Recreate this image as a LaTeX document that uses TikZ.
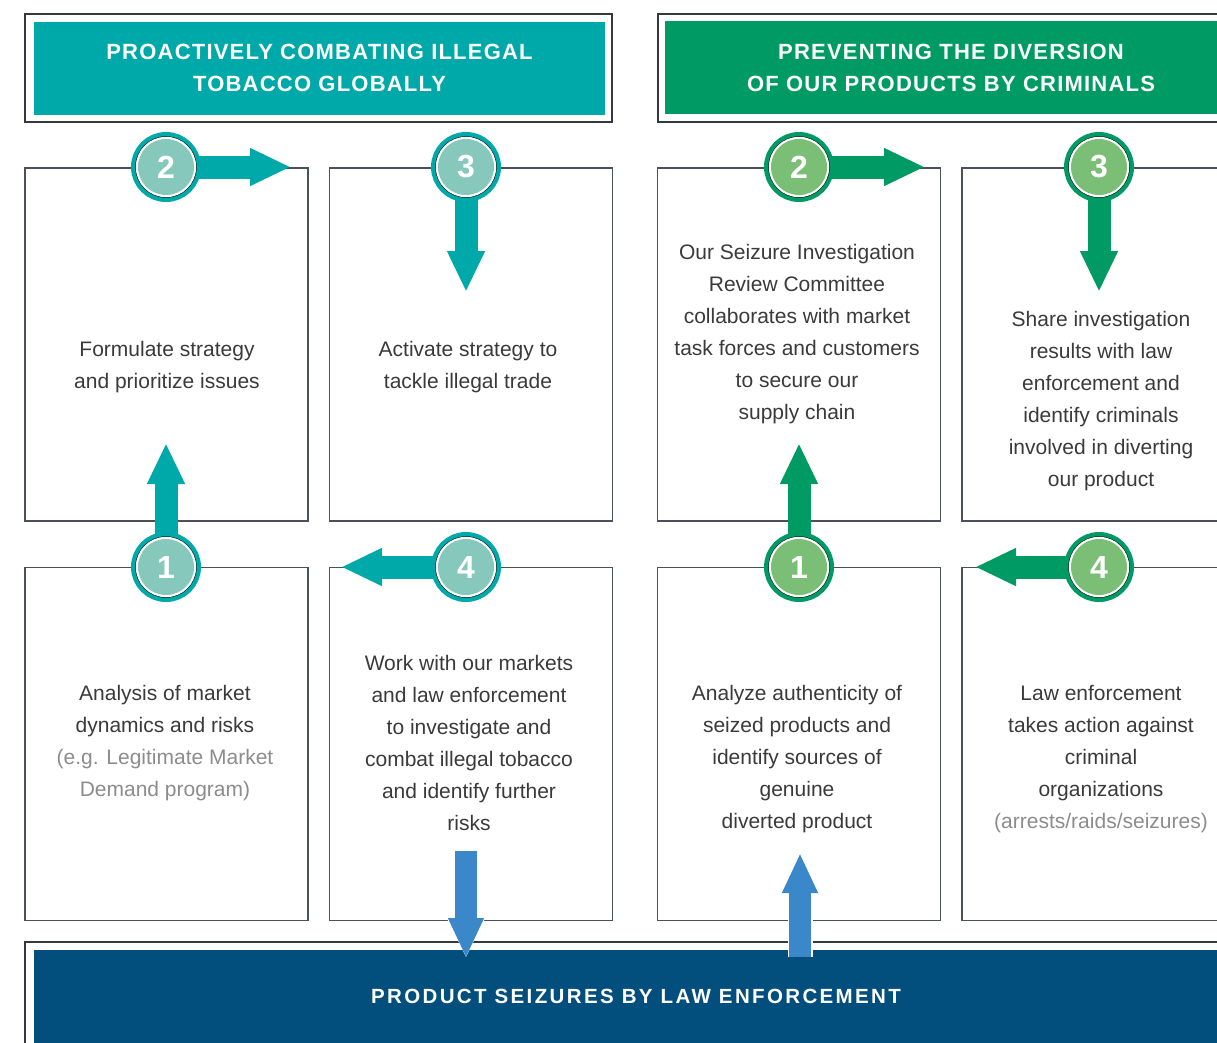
\documentclass[tikz,border=0pt]{standalone}
\usepackage{fontspec}
\setmainfont{Liberation Sans}
\newfontfamily\hdfont[LetterSpace=5.5]{Liberation Sans}
\newfontfamily\btfont[LetterSpace=11.5]{Liberation Sans}
\usetikzlibrary{arrows.meta}
\definecolor{tealA}{HTML}{00A9A9}
\definecolor{tealL}{HTML}{86C8BC}
\definecolor{greenA}{HTML}{009B65}
\definecolor{greenL}{HTML}{7BBE76}
\definecolor{navy}{HTML}{024E7C}
\definecolor{blueA}{HTML}{3A88C9}
\definecolor{framec}{HTML}{4B5059}
\definecolor{txt}{HTML}{3A3A3A}
\definecolor{txtgray}{HTML}{8C8C8C}
\pgfdeclarelayer{bg}
\pgfdeclarelayer{mid}
\pgfsetlayers{bg,mid,main}
\tikzset{
  cbox/.style={draw=framec, line width=1.4pt, minimum width=283pt, minimum height=353pt, inner sep=0pt},
  hframe/.style={draw=framec!70!black, line width=1.4pt, inner sep=0pt},
  hfill/.style={fill=#1, inner sep=0pt, text=white, align=center,
     font=\hdfont\bfseries\fontsize{22}{32}\selectfont},
  body/.style={align=center, text=txt, inner sep=0pt, font=\fontsize{21}{32}\selectfont},
  numc/.style n args={2}{circle, inner sep=0pt, minimum size=56pt, fill=#2, text=white,
     font=\bfseries\fontsize{32}{32}\selectfont,
     preaction={draw=#1, fill=#1, line width=14pt},
     preaction={draw=black, line width=5.4pt},
     preaction={draw=white, line width=4.4pt}},
  thick arrow/.style={draw=#1, line width=23pt, -{Triangle[length=41pt,width=35pt]}},
  blue arrow/.style={draw=blueA, line width=22pt, -{Triangle[length=40pt,width=33pt]},
     preaction={draw=white, line width=25pt, -{Triangle[length=43pt,width=38pt]}}}
}
\newcommand{\gr}[1]{{\color{txtgray}#1}}
\begin{document}
\begin{tikzpicture}[x=1pt,y=-1pt]
\useasboundingbox (0,0) rectangle (1217,1042);
\clip (0,0) rectangle (1217,1042);

% ---------- boxes (background) ----------
\begin{pgfonlayer}{bg}
\node[hframe, minimum width=587pt, minimum height=108pt] (hfL) at (318.5,68) {};
\node[hframe, minimum width=600pt, minimum height=108pt] (hfR) at (958,68) {};
\node[cbox] (bA) at (166.5,344.5) {};
\node[cbox] (bB) at (471,344.5) {};
\node[cbox] (bC) at (166.5,744) {};
\node[cbox] (bD) at (471,744) {};
\node[cbox] (bE) at (799,344.5) {};
\node[cbox] (bF) at (1103.5,344.5) {};
\node[cbox] (bG) at (799,744) {};
\node[cbox] (bH) at (1103.5,744) {};
\node[hframe, minimum width=1240pt, minimum height=140pt] (bfr) at (645,1012) {};
\end{pgfonlayer}

% ---------- header fills ----------
\node[hfill=tealA, minimum width=571pt, minimum height=93pt] (hL) at (319.5,68)
  {PROACTIVELY COMBATING ILLEGAL\\TOBACCO GLOBALLY};
\node[hfill=greenA, minimum width=600pt, minimum height=93pt] (hRbg) at (965,67.5) {};
\node[text=white, align=center, inner sep=0pt, font=\hdfont\bfseries\fontsize{22}{32}\selectfont]
  (hR) at (951,68) {PREVENTING THE DIVERSION\\OF OUR PRODUCTS BY CRIMINALS};
\node[fill=navy, minimum width=1230pt, minimum height=120pt, inner sep=0pt] (bot) at (649,1010) {};
\node[text=white, inner sep=0pt, font=\btfont\bfseries\fontsize{20.5}{24}\selectfont]
  (botT) at (636,996) {PRODUCT SEIZURES BY LAW ENFORCEMENT};

% ---------- body texts ----------
\node[body] (tA) at (167,367) {Formulate strategy\\and prioritize issues};
\node[body] (tB) at (468,367) {Activate strategy to\\tackle illegal trade};
\node[body] (tE) at (797,334) {Our Seizure Investigation\\Review Committee\\collaborates with market\\task forces and customers\\to secure our\\supply chain};
\node[body] (tF) at (1101,401) {Share investigation\\results with law\\enforcement and\\identify criminals\\involved in diverting\\our product};
\node[body] (tC) at (165,743) {Analysis of market\\dynamics and risks\\\gr{(e.g. Legitimate Market}\\\gr{Demand program)}};
\node[body] (tD) at (469,743) {Work with our markets\\and law enforcement\\to investigate and\\combat illegal tobacco\\and identify further\\risks};
\node[body] (tG) at (797,759) {Analyze authenticity of\\seized products and\\identify sources of\\genuine\\diverted product};
\node[body] (tH) at (1101,759) {Law enforcement\\takes action against\\criminal\\organizations\\\gr{(arrests/raids/seizures)}};

% ---------- numbered circles ----------
\node[numc={tealA}{tealL}] (c2L) at (166,167) {2};
\node[numc={tealA}{tealL}] (c3L) at (466,167) {3};
\node[numc={tealA}{tealL}] (c1L) at (166,567) {1};
\node[numc={tealA}{tealL}] (c4L) at (466,567) {4};
\node[numc={greenA}{greenL}] (c2R) at (799,167) {2};
\node[numc={greenA}{greenL}] (c3R) at (1099,167) {3};
\node[numc={greenA}{greenL}] (c1R) at (799,567) {1};
\node[numc={greenA}{greenL}] (c4R) at (1099,567) {4};

% ---------- arrow end points ----------
\coordinate (t2L) at (291,167);
\coordinate (t3L) at (466,292);
\coordinate (t1L) at (166,443);
\coordinate (t4L) at (341,567);
\coordinate (t2R) at (925,167);
\coordinate (t3R) at (1099,292);
\coordinate (t1R) at (799,443);
\coordinate (t4R) at (975,567);
\coordinate (bdS) at (466,851);
\coordinate (bdE) at (466,958);
\coordinate (buS) at (800,957);
\coordinate (buE) at (800,853);

\begin{pgfonlayer}{mid}
\draw[thick arrow=tealA] (c2L.center) -- (t2L);
\draw[thick arrow=tealA] (c3L.center) -- (t3L);
\draw[thick arrow=tealA] (c1L.center) -- (t1L);
\draw[thick arrow=tealA] (c4L.center) -- (t4L);
\draw[thick arrow=greenA] (c2R.center) -- (t2R);
\draw[thick arrow=greenA] (c3R.center) -- (t3R);
\draw[thick arrow=greenA] (c1R.center) -- (t1R);
\draw[thick arrow=greenA] (c4R.center) -- (t4R);
\end{pgfonlayer}

\draw[blue arrow] (bdS) -- (bdE);
\draw[blue arrow] (buS) -- (buE);
\end{tikzpicture}
\end{document}
